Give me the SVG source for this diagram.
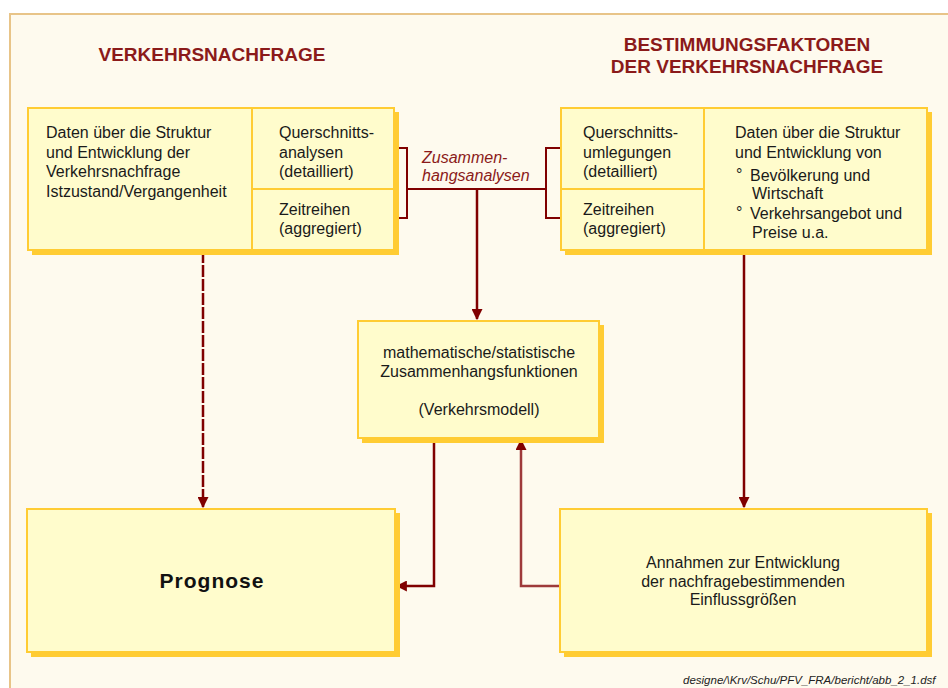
<svg xmlns="http://www.w3.org/2000/svg" width="948" height="688" viewBox="0 0 948 688">
<defs>
<style>
.panel{fill:#fefaee;stroke:#e8c488;stroke-width:2}
.shadow{fill:#ffcc33}
.box{fill:#fffccc;stroke:#ffcc33;stroke-width:2}
.div{stroke:#ffcc33;stroke-width:2;fill:none}
.title{font-family:"Liberation Sans",Arial,sans-serif;font-weight:bold;font-size:19px;fill:#8b1a1a}
.t{font-family:"Liberation Sans",Arial,sans-serif;font-size:16px;fill:#1a1a1a}
.c{text-anchor:middle}
.lbl{font-family:"Liberation Sans",Arial,sans-serif;font-size:16px;font-style:italic;fill:#8b1a1a}
.big{font-family:"Liberation Sans",Arial,sans-serif;font-size:21px;font-weight:bold;letter-spacing:1px;fill:#111}
.foot{font-family:"Liberation Sans",Arial,sans-serif;font-size:11.5px;font-style:italic;fill:#222}
.line{stroke:#800000;stroke-width:2.5;fill:none}
.line2{stroke:#9e3a3a;stroke-width:2.5;fill:none}
.br{stroke:#800000;stroke-width:2;fill:none}
</style>
<marker id="ah" viewBox="0 0 10 10" refX="9" refY="5" markerWidth="4.4" markerHeight="4.4" orient="auto" markerUnits="strokeWidth">
<path d="M0,0 L10,5 L0,10 z" fill="#800000"/>
</marker>
</defs>
<rect x="0" y="0" width="948" height="688" fill="#ffffff"/>
<rect class="panel" x="10" y="14" width="945" height="690"/>

<g id="titles">
<text class="title c" x="212" y="61">VERKEHRSNACHFRAGE</text>
<text class="title c" x="747" y="51">BESTIMMUNGSFAKTOREN</text>
<text class="title c" x="747" y="73">DER VERKEHRSNACHFRAGE</text>
</g>

<g id="connectors">
<line class="line" x1="203" y1="251" x2="203" y2="507" stroke-dasharray="12 2" marker-end="url(#ah)"/>
<line class="line" x1="744" y1="251" x2="744" y2="507" marker-end="url(#ah)"/>
<polyline class="br" points="395,148 407,148 407,218 395,218"/>
<polyline class="br" points="560,148 546,148 546,218 560,218"/>
<line class="br" x1="407" y1="189" x2="546" y2="189"/>
<line class="line" x1="477" y1="189" x2="477" y2="319" marker-end="url(#ah)"/>
<polyline class="line" points="434,439 434,586 397,586" marker-end="url(#ah)"/>
<polyline class="line2" points="559,586 521,586 521,440" marker-end="url(#ah)"/>
<text class="lbl" x="422" y="163">Zusammen-</text>
<text class="lbl" x="422" y="181">hangsanalysen</text>
</g>

<g id="node-daten-links">
<rect class="shadow" x="32" y="112" width="367" height="143"/>
<rect class="box" x="28" y="108" width="366" height="142"/>
<line class="div" x1="252" y1="108" x2="252" y2="250"/>
<line class="div" x1="252" y1="189" x2="394" y2="189"/>
<text class="t" x="46" y="138">Daten über die Struktur</text>
<text class="t" x="46" y="158">und Entwicklung der</text>
<text class="t" x="46" y="177">Verkehrsnachfrage</text>
<text class="t" x="46" y="197">Istzustand/Vergangenheit</text>
<text class="t" x="279" y="138">Querschnitts-</text>
<text class="t" x="279" y="158">analysen</text>
<text class="t" x="279" y="177">(detailliert)</text>
<text class="t" x="279" y="215">Zeitreihen</text>
<text class="t" x="279" y="234">(aggregiert)</text>
</g>

<g id="node-daten-rechts">
<rect class="shadow" x="565" y="112" width="367" height="143"/>
<rect class="box" x="561" y="108" width="366" height="142"/>
<line class="div" x1="704" y1="108" x2="704" y2="250"/>
<line class="div" x1="561" y1="189" x2="704" y2="189"/>
<text class="t" x="583" y="138">Querschnitts-</text>
<text class="t" x="583" y="158">umlegungen</text>
<text class="t" x="583" y="177">(detailliert)</text>
<text class="t" x="583" y="215">Zeitreihen</text>
<text class="t" x="583" y="234">(aggregiert)</text>
<text class="t" x="735" y="138">Daten über die Struktur</text>
<text class="t" x="735" y="158">und Entwicklung von</text>
<text class="t" x="736" y="180">°</text>
<text class="t" x="750" y="181">Bevölkerung und</text>
<text class="t" x="752" y="199">Wirtschaft</text>
<text class="t" x="736" y="218">°</text>
<text class="t" x="750" y="219">Verkehrsangebot und</text>
<text class="t" x="752" y="238">Preise u.a.</text>
</g>

<g id="node-modell">
<rect class="shadow" x="362" y="325" width="242" height="118"/>
<rect class="box" x="358" y="321" width="241" height="117"/>
<text class="t c" x="479" y="358">mathematische/statistische</text>
<text class="t c" x="479" y="377">Zusammenhangsfunktionen</text>
<text class="t c" x="479" y="415">(Verkehrsmodell)</text>
</g>

<g id="node-prognose">
<rect class="shadow" x="31" y="513" width="369" height="144"/>
<rect class="box" x="27" y="509" width="368" height="143"/>
<text class="big c" x="212" y="588">Prognose</text>
</g>

<g id="node-annahmen">
<rect class="shadow" x="564" y="513" width="368" height="144"/>
<rect class="box" x="560" y="509" width="367" height="143"/>
<text class="t c" x="743" y="568">Annahmen zur Entwicklung</text>
<text class="t c" x="743" y="587">der nachfragebestimmenden</text>
<text class="t c" x="743" y="605">Einflussgrößen</text>
</g>

<text class="foot" x="683" y="684">designe/\Krv/Schu/PFV_FRA/bericht/abb_2_1.dsf</text>
</svg>
